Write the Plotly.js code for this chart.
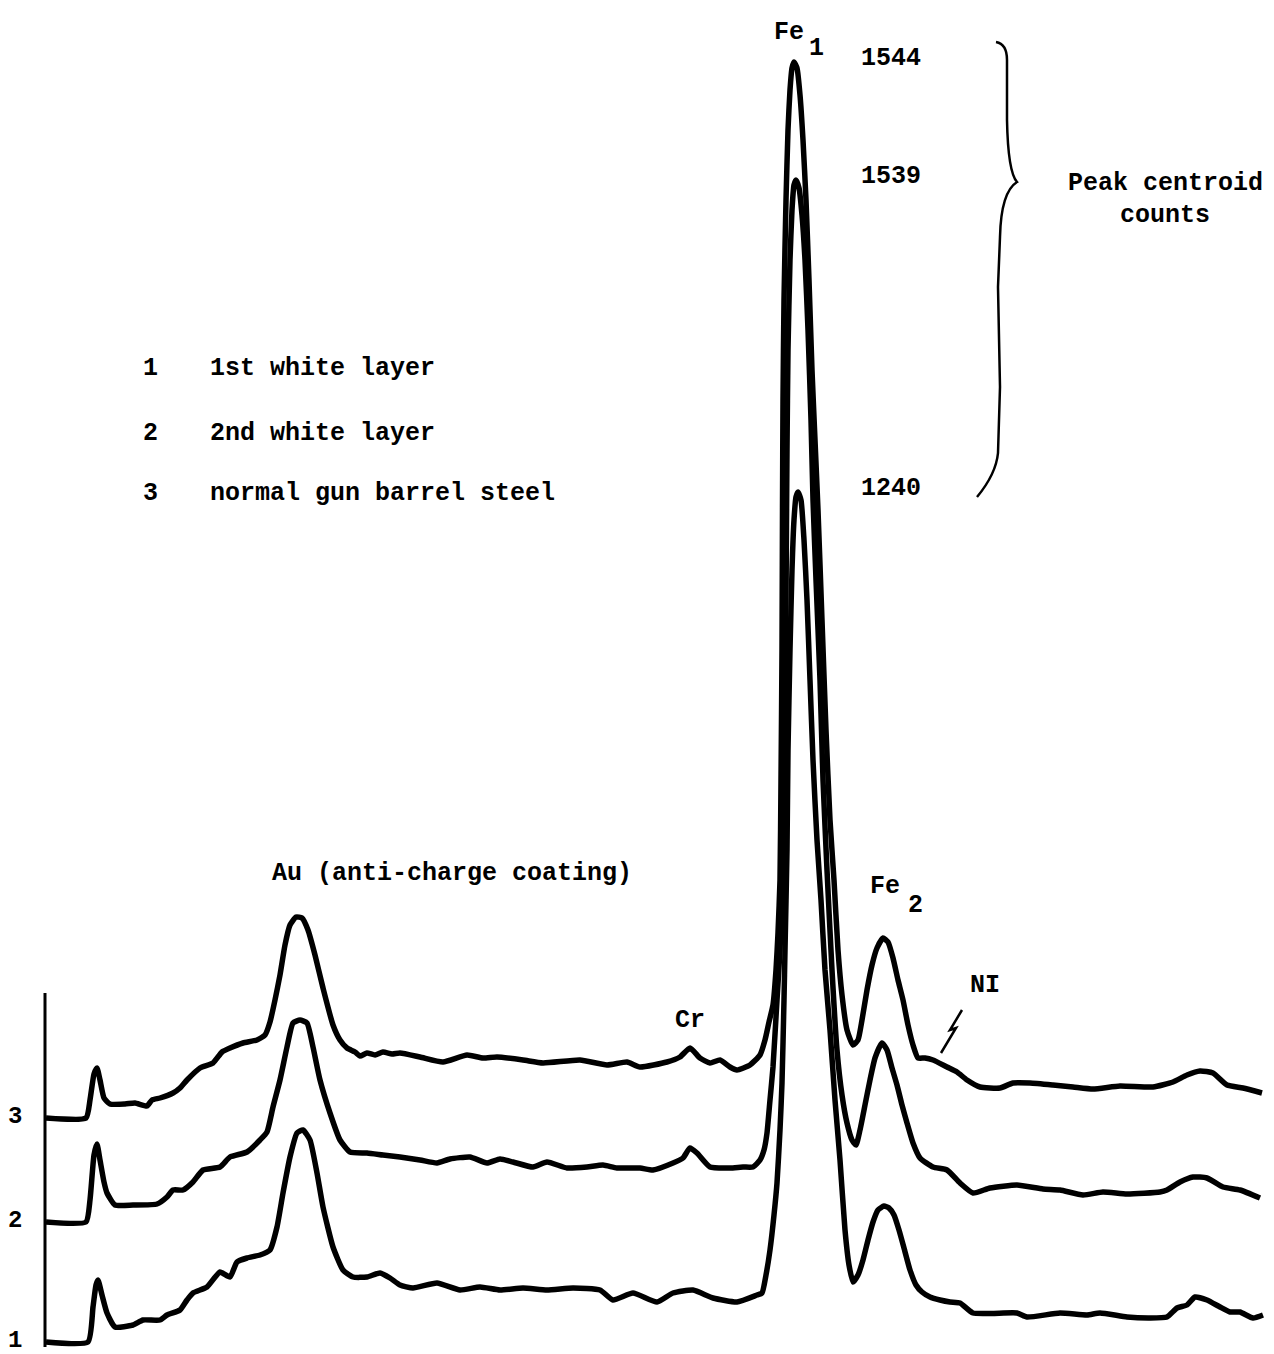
<!DOCTYPE html>
<html>
<head>
<meta charset="utf-8">
<script src="https://cdn.plot.ly/plotly-3.0.1.min.js"></script>
<style>html,body{margin:0;padding:0;background:#fff;}</style>
</head>
<body>
<div id="chart" style="width:1274px;height:1354px;"></div>
<script>
// ---- data (channel vs. signal height above each trace's own baseline) ----
const sampleIds = ["1", "2", "3"];
const sampleNames = ["1st white layer", "2nd white layer", "normal gun barrel steel"];
const peakCounts = [1240, 1539, 1544];
const offsets = [0, 120, 224];

const x1 = [46,88,93,96,98,102,107,115,133,143,160,167,180,187,193,207,220,230,237,247,260,270,277,283,290,297,303,310,317,323,333,343,353,367,380,390,400,413,437,460,480,500,523,547,573,600,613,633,657,673,693,713,737,757,762,766,770,774,777,780,782,784,785,787,788,790,792,794,796,798,801,804,807,810,813,817,821,825,830,835,840,845,849,853,858,863,868,873,878,884,889,894,899,904,910,916,922,930,940,950,960,973,1017,1027,1060,1087,1100,1127,1150,1167,1177,1187,1195,1207,1220,1230,1240,1253,1263];
const h1 = [0,0,35,57,62,47,29,15,17,22,22,27,32,42,49,55,70,65,80,84,87,92,115,149,185,209,212,202,169,135,95,72,65,65,69,64,57,54,59,52,55,52,54,52,54,52,42,49,40,49,52,44,40,47,49,67,92,127,159,212,259,342,392,492,592,692,772,822,845,850,842,802,742,662,582,502,442,372,312,242,182,112,77,60,67,82,102,120,132,136,134,127,112,94,72,57,50,45,42,40,39,29,29,25,29,27,29,25,24,25,34,37,45,42,35,30,30,24,27];

const x2 = [46,86,90,94,97,100,104,107,115,133,157,167,173,183,193,203,220,230,247,260,267,273,280,287,293,300,307,313,320,330,340,350,367,383,400,420,437,450,470,487,500,513,533,547,567,587,603,617,640,653,673,683,690,697,710,730,743,753,760,764,767,770,773,777,780,782,784,785,786,787,788,790,792,794,796,799,802,805,808,811,813,816,820,823,827,832,837,842,847,852,856,860,865,870,875,882,887,892,897,902,907,913,920,933,947,960,973,990,1017,1043,1060,1083,1103,1127,1160,1167,1180,1193,1207,1223,1240,1260];
const h2 = [0,0,22,67,78,62,40,29,17,17,18,25,32,32,40,52,55,65,70,82,90,115,142,175,199,202,199,175,142,109,82,70,69,67,65,62,59,63,65,59,63,60,55,60,54,55,57,54,54,52,59,64,74,69,55,54,55,55,62,72,89,122,155,222,272,322,372,472,622,772,872,962,1012,1037,1042,1034,1007,962,892,802,722,642,542,442,352,252,172,127,99,82,77,92,117,142,164,179,172,154,137,117,99,79,64,55,52,39,29,34,37,33,32,27,30,28,30,32,40,45,44,35,32,24];

const x3 = [46,86,90,94,97,100,104,110,125,135,147,152,160,173,180,187,200,213,222,230,243,257,265,270,275,280,285,290,296,302,308,315,323,333,340,347,355,360,367,375,383,392,400,420,443,467,483,497,523,543,580,607,627,640,667,680,690,700,710,720,730,737,750,760,765,769,773,776,778,780,781,782,782.5,783,784,786,788,790,792,794,797,800,803,806,809,812,815,818,822,826,830,834,838,842,847,853,858,862,867,872,877,883,888,893,898,903,908,913,918,925,933,947,957,967,980,1000,1013,1030,1053,1073,1093,1120,1153,1173,1187,1200,1213,1227,1243,1262];
const h3 = [0,0,18,44,50,38,20,14,14,15,12,18,20,25,30,38,50,55,66,70,75,78,83,96,118,143,173,193,201,200,188,163,130,93,78,70,66,62,65,63,66,64,65,61,56,63,60,61,58,55,58,53,56,51,56,61,70,60,55,58,51,48,53,63,78,96,113,148,185,238,338,468,611,718,818,918,988,1028,1050,1056,1050,1023,978,918,838,748,678,608,498,388,298,238,168,123,88,73,78,98,128,153,170,180,176,160,138,118,93,73,60,60,58,51,46,38,31,30,35,35,33,31,29,32,31,36,43,47,45,33,30,25];

const xs = [x1, x2, x3];
const hs = [h1, h2, h3];

// ---- traces ----
const traces = hs.map((h, i) => ({
  type: "scatter",
  mode: "lines",
  x: xs[i],
  y: h.map(v => v + offsets[i]),
  line: {color: "#000", width: 5.5, shape: "spline", smoothing: 0.5},
  hoverinfo: "skip",
  name: sampleNames[i]
}));

const FONT = "Liberation Mono, Courier New, monospace";
const txt = (text, x, y, opts = {}) => Object.assign({
  text: text, x: x, y: y, xref: "x", yref: "y", showarrow: false,
  font: {family: FONT, size: 25, color: "#000", weight: "bold"},
  xanchor: "center", yanchor: "middle"
}, opts);

const annotations = [];
// trace numbers at the baselines
offsets.forEach((o, i) => annotations.push(txt(sampleIds[i], 15, o + 2, {font: {family: FONT, size: 24, color: "#000", weight: "bold"}})));
// legend text
const legendY = [974, 909, 849];
sampleNames.forEach((n, i) => {
  annotations.push(txt(sampleIds[i], 150, legendY[i]));
  annotations.push(txt(n, 208, legendY[i], {xanchor: "left"}));
});
// peak centroid counts placed at each trace's Fe1 maximum
hs.forEach((h, i) => {
  const peak = Math.max(...h) + offsets[i];
  annotations.push(txt(String(peakCounts[i]), 891, peak + 4));
});
annotations.push(txt("Peak centroid", 1165, 1159));
annotations.push(txt("counts", 1165, 1127));
annotations.push(txt("Fe", 789, 1310));
annotations.push(txt("1", 816, 1294));
annotations.push(txt("Au (anti-charge coating)", 452, 469));
annotations.push(txt("Cr", 690, 322));
annotations.push(txt("Fe", 885, 456));
annotations.push(txt("2", 915, 437));
annotations.push(txt("NI", 985, 357));

const shapes = [
  // vertical axis line
  {type: "line", xref: "x", yref: "y", x0: 45, x1: 45, y0: -5, y1: 349, line: {color: "#000", width: 3}},
  // curly brace
  {type: "path", xref: "x", yref: "y",
   path: "M 996,1300 Q 1007,1298 1007,1282 L 1007,1222 Q 1008,1170 1017,1160 Q 1001,1150 1000,1105 L 998,1055 L 1000,955 L 998,889 Q 996,868 977,845",
   line: {color: "#000", width: 2.5}},
  // NI pointer
  {type: "path", xref: "x", yref: "y",
   path: "M 962,332 L 950,312 L 956,314 L 941,289",
   line: {color: "#000", width: 2.5}}
];

const layout = {
  width: 1274, height: 1354,
  margin: {l: 0, r: 0, t: 0, b: 0},
  paper_bgcolor: "#fff", plot_bgcolor: "#fff",
  showlegend: false,
  xaxis: {range: [0, 1274], visible: false, fixedrange: true},
  yaxis: {range: [-12, 1342], visible: false, fixedrange: true},
  annotations: annotations,
  shapes: shapes
};

Plotly.newPlot("chart", traces, layout, {displayModeBar: false, staticPlot: true});
</script>
</body>
</html>
